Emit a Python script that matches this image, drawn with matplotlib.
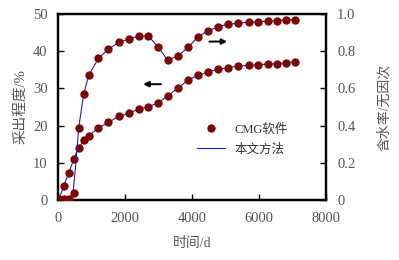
import numpy as np
import matplotlib.pyplot as plt
from matplotlib.ticker import FixedLocator

plt.rcParams['font.family'] = ['Liberation Serif', 'Noto Sans CJK SC', 'DejaVu Sans']

# time, days
t_pts = [15, 155, 305, 465, 605, 755, 905, 1195, 1495, 1805, 2095, 2395, 2690, 2980,
         3270, 3585, 3885, 4170, 4460, 4780, 5060, 5380, 5690, 5960, 6280, 6540, 6790, 7075]
# recovery degree, % (CMG)
rec_pts = [0.3, 3.8, 7.4, 11.2, 14.0, 16.1, 17.3, 19.4, 20.9, 22.5, 23.3, 24.4, 25.1, 26.1,
           28.0, 30.2, 32.2, 33.5, 34.3, 35.1, 35.5, 36.0, 36.1, 36.3, 36.5, 36.6, 36.8, 37.1]
# water cut, fraction (CMG)
wc_pts = [0.0, 0.01, 0.01, 0.04, 0.39, 0.57, 0.67, 0.76, 0.81, 0.846, 0.862, 0.88, 0.88, 0.82,
          0.75, 0.775, 0.82, 0.876, 0.906, 0.93, 0.942, 0.949, 0.953, 0.956, 0.96, 0.962, 0.965, 0.967]

# model curve (本文方法)
t_line = [0, 155, 305, 430, 520, 605, 755, 905, 1195, 1495, 1805, 2095, 2395, 2690, 2980,
          3270, 3585, 3885, 4170, 4460, 4780, 5060, 5380, 5690, 5960, 6280, 6540, 6790, 7075]
rec_line = [0.0, 3.8, 7.4, 10.3, 12.5, 14.0, 16.1, 17.3, 19.4, 20.9, 22.5, 23.3, 24.4, 25.1, 26.1,
            28.0, 30.2, 32.2, 33.5, 34.3, 35.1, 35.5, 36.0, 36.1, 36.3, 36.5, 36.6, 36.8, 37.1]
wc_line = [0.0, 0.005, 0.01, 0.03, 0.2, 0.39, 0.57, 0.67, 0.76, 0.81, 0.846, 0.862, 0.88, 0.88, 0.82,
           0.75, 0.775, 0.82, 0.876, 0.906, 0.93, 0.942, 0.949, 0.953, 0.956, 0.96, 0.962, 0.965, 0.967]

fig = plt.figure(figsize=(3.99, 2.6), dpi=100)
ax = fig.add_axes([0.1466, 0.229, 0.6704, 0.719])
ax2 = ax.twinx()

dot_c = '#7a0606'
line_c = '#1f1fbf'

ax.plot(t_line, rec_line, color=line_c, lw=0.8, zorder=2)
ax.plot(t_pts, rec_pts, 'o', color=dot_c, ms=5, zorder=3)
ax2.plot(t_line, wc_line, color=line_c, lw=0.8, zorder=2)
ax2.plot(t_pts, wc_pts, 'o', color=dot_c, ms=5, zorder=3)

ax.set_xlim(0, 8000)
ax.set_ylim(0, 50)
ax2.set_ylim(0, 1.0)
ax.xaxis.set_major_locator(FixedLocator([0, 2000, 4000, 6000, 8000]))
ax.yaxis.set_major_locator(FixedLocator([0, 10, 20, 30, 40, 50]))
ax2.yaxis.set_major_locator(FixedLocator([0, 0.2, 0.4, 0.6, 0.8, 1.0]))
ax2.set_yticklabels(['0', '0.2', '0.4', '0.6', '0.8', '1.0'])

tick_c = '#555555'
for a in (ax, ax2):
    for s in a.spines.values():
        s.set_linewidth(1.6)
    a.tick_params(direction='in', length=4, width=1, labelsize=10.5, labelcolor=tick_c)
ax.tick_params(axis='x', pad=8)
ax.tick_params(axis='y', pad=8)
ax2.tick_params(axis='y', pad=8)

ax.set_xlabel('时间/d', fontsize=10, color=tick_c, labelpad=9)
ax.set_ylabel('采出程度/%', fontsize=10.5, color=tick_c, labelpad=4)
ax2.set_ylabel('含水率/无因次', fontsize=10, color=tick_c, rotation=90, labelpad=16)

# direction arrows
ax.annotate('', xy=(2450, 31.1), xytext=(3150, 31.1),
            arrowprops=dict(arrowstyle='-|>', color='black', lw=1.4, mutation_scale=8))
ax.annotate('', xy=(5130, 42.5), xytext=(4430, 42.5),
            arrowprops=dict(arrowstyle='-|>', color='black', lw=1.4, mutation_scale=8))

h1, = ax.plot([], [], 'o', color=dot_c, ms=5)
h2, = ax.plot([], [], color=line_c, lw=0.8)
leg = ax.legend([h1, h2], ['CMG软件', '本文方法'], loc='lower right',
                bbox_to_anchor=(0.9, 0.18), frameon=False, fontsize=9,
                handlelength=2.2, labelspacing=0.6)
for tx in leg.get_texts():
    tx.set_color('#333333')

fig.savefig('out.png', dpi=100)
